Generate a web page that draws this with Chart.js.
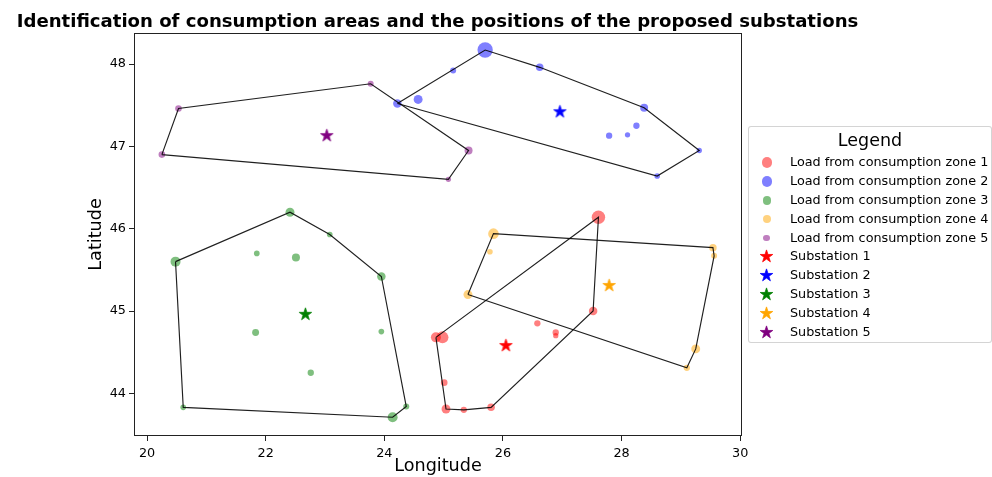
<!DOCTYPE html>
<html>
<head>
<meta charset="utf-8">
<script src="https://cdn.jsdelivr.net/npm/chart.js@4/dist/chart.umd.min.js"></script>
<style>
html,body{margin:0;padding:0;background:#fff;}
#wrap{position:relative;width:992px;height:477px;overflow:hidden;font-family:"DejaVu Sans",sans-serif;color:#000;}
#c{position:absolute;left:0;top:0;}
#legend{position:absolute;left:748px;top:126px;width:244px;height:217px;box-sizing:border-box;border:1px solid rgba(204,204,204,0.85);border-radius:3px;background:rgba(255,255,255,0.8);}
#legend .lt{position:absolute;left:0;right:0;text-align:center;font-size:17.5px;line-height:17.5px;white-space:nowrap;}
#legend .row{position:absolute;left:0;height:18.84px;line-height:18.84px;font-size:12.8px;white-space:nowrap;}
#legend .mk{position:absolute;}
#legend .tx{position:absolute;left:41px;top:0;}
</style>
</head>
<body>
<div id="wrap">
<canvas id="c" width="992" height="477"></canvas>
<div id="legend"></div>
</div>
<script>
// ---------- data ----------
const titleText = "Identification of consumption areas and the positions of the proposed substations";
const xLabel = "Longitude";
const yLabel = "Latitude";
const xTicks = [20, 22, 24, 26, 28, 30];
const yTicks = [44, 45, 46, 47, 48];

const zone1Lon = [27.61, 27.52, 25.80, 25.34, 25.04, 24.87, 24.98, 25.01, 26.58, 26.89, 26.89];
const zone1Lat = [46.14, 45.00, 43.83, 43.80, 43.81, 44.68, 44.68, 44.13, 44.85, 44.74, 44.70];
const zone1Load = [45, 18, 14, 10, 20, 25, 36, 11, 10, 10, 7];

const zone2Lon = [24.22, 24.57, 25.16, 25.70, 26.62, 28.38, 29.31, 28.60, 28.25, 28.10, 27.79];
const zone2Lat = [47.52, 47.57, 47.92, 48.17, 47.96, 47.47, 46.95, 46.64, 47.25, 47.14, 47.13];
const zone2Load = [18, 20, 9, 59, 14, 16, 7, 8, 10, 7, 10];

const zone3Lon = [22.41, 23.08, 23.95, 24.37, 24.14, 20.61, 20.48, 21.85, 22.51, 21.83, 23.95, 22.76];
const zone3Lat = [46.20, 45.93, 45.42, 43.84, 43.71, 43.83, 45.60, 45.70, 45.65, 44.74, 44.75, 44.25];
const zone3Load = [20, 8, 18, 9, 25, 8, 25, 8, 16, 12, 8, 10];

const zone4Lon = [25.84, 25.78, 25.41, 29.54, 29.56, 29.25, 29.10];
const zone4Lat = [45.94, 45.72, 45.20, 45.77, 45.67, 44.54, 44.31];
const zone4Load = [28, 8, 20, 14, 9, 20, 10];

const zone5Lon = [20.53, 20.25, 23.77, 25.08, 25.42];
const zone5Lat = [47.46, 46.90, 47.76, 46.60, 46.95];
const zone5Load = [11, 11, 9, 7, 16];

const substationLon = [26.05, 26.96, 22.67, 27.79, 23.03];
const substationLat = [44.58, 47.42, 44.96, 45.31, 47.13];

const zoneLabels = ["Load from consumption zone 1", "Load from consumption zone 2", "Load from consumption zone 3", "Load from consumption zone 4", "Load from consumption zone 5"];
const substationLabels = ["Substation 1", "Substation 2", "Substation 3", "Substation 4", "Substation 5"];
const zoneColors = ["rgba(255,0,0,0.5)", "rgba(0,0,255,0.5)", "rgba(0,128,0,0.5)", "rgba(255,165,0,0.5)", "rgba(128,0,128,0.5)"];
const starColors = ["#ff0000", "#0000ff", "#008000", "#ffa500", "#800080"];
const legendCircleR = [5.2, 5.2, 4.2, 4.2, 3.3];

// ---------- helpers ----------
const zones = [
  {lon: zone1Lon, lat: zone1Lat, load: zone1Load},
  {lon: zone2Lon, lat: zone2Lat, load: zone2Load},
  {lon: zone3Lon, lat: zone3Lat, load: zone3Load},
  {lon: zone4Lon, lat: zone4Lat, load: zone4Load},
  {lon: zone5Lon, lat: zone5Lat, load: zone5Load}
];

function convexHull(points) {
  const p = points.slice().sort((a, b) => a.x - b.x || a.y - b.y);
  const cross = (o, a, b) => (a.x - o.x) * (b.y - o.y) - (a.y - o.y) * (b.x - o.x);
  const lower = [];
  for (const q of p) { while (lower.length >= 2 && cross(lower[lower.length - 2], lower[lower.length - 1], q) <= 0) lower.pop(); lower.push(q); }
  const upper = [];
  for (let i = p.length - 1; i >= 0; i--) { const q = p[i]; while (upper.length >= 2 && cross(upper[upper.length - 2], upper[upper.length - 1], q) <= 0) upper.pop(); upper.push(q); }
  upper.pop(); lower.pop();
  return lower.concat(upper);
}

function starCanvas(color, R) {
  const size = Math.ceil(R * 2 + 3);
  const c = document.createElement('canvas');
  c.width = size; c.height = size;
  const g = c.getContext('2d');
  g.translate(size / 2, size / 2);
  g.beginPath();
  for (let k = 0; k < 10; k++) {
    const r = (k % 2) ? R * 0.382 : R;
    const a = -Math.PI / 2 + k * Math.PI / 5;
    g.lineTo(r * Math.cos(a), r * Math.sin(a));
  }
  g.closePath();
  g.fillStyle = color; g.fill();
  g.strokeStyle = color; g.lineWidth = 0.8; g.stroke();
  return c;
}

const STAR_R = 6.6;
const FONT = '"DejaVu Sans", sans-serif';

const datasets = [];
zones.forEach((z) => {
  const pts = z.lon.map((x, j) => ({x: x, y: z.lat[j]}));
  const hull = convexHull(pts);
  hull.push(hull[0]);
  datasets.push({type: 'line', data: hull, borderColor: 'rgba(0,0,0,0.88)', borderWidth: 1.15, pointRadius: 0, fill: false, tension: 0, order: 0});
});
zones.forEach((z, i) => {
  datasets.push({type: 'scatter', label: zoneLabels[i], data: z.lon.map((x, j) => ({x: x, y: z.lat[j]})),
    backgroundColor: zoneColors[i], borderWidth: 0, pointRadius: z.load.map(l => Math.sqrt(l)), order: 2});
});
substationLon.forEach((x, i) => {
  datasets.push({type: 'scatter', label: substationLabels[i], data: [{x: x, y: substationLat[i]}],
    pointStyle: starCanvas(starColors[i], STAR_R), pointRadius: STAR_R, order: 1});
});

const framePlugin = {
  id: 'frame',
  afterDraw(chart) {
    const {ctx, chartArea: a} = chart;
    ctx.save();
    ctx.strokeStyle = '#222';
    ctx.lineWidth = 1;
    ctx.strokeRect(Math.round(a.left) + 0.5, Math.round(a.top) + 0.5, Math.round(a.right - a.left) - 1, Math.round(a.bottom - a.top) - 1);
    // title
    ctx.fillStyle = '#000';
    ctx.font = 'bold 18.1px ' + FONT;
    ctx.textAlign = 'center';
    ctx.textBaseline = 'alphabetic';
    ctx.fillText(titleText, (a.left + a.right) / 2 - 0.5, 26.7);
    ctx.restore();
  }
};

const tickFont = {family: FONT, size: 12.8};
const labelFont = {family: FONT, size: 17.6};

new Chart(document.getElementById('c'), {
  type: 'scatter',
  data: {datasets: datasets},
  plugins: [framePlugin],
  options: {
    responsive: false,
    animation: false,
    events: [],
    layout: {padding: {left: 0, top: 33, right: 250, bottom: 0}},
    plugins: {legend: {display: false}, tooltip: {enabled: false}, title: {display: false}},
    scales: {
      x: {
        type: 'linear', min: 19.78, max: 30.03,
        afterBuildTicks: (s) => { s.ticks = xTicks.map(v => ({value: v})); },
        afterFit: (s) => { s.height = 41; },
        ticks: {font: tickFont, color: '#000', padding: 5, callback: (v) => String(v)},
        grid: {drawOnChartArea: false, drawTicks: true, tickLength: 5, color: '#222'},
        border: {display: false},
        title: {display: true, text: xLabel, font: labelFont, color: '#000', padding: {top: 0, bottom: 0}}
      },
      y: {
        type: 'linear', min: 43.482, max: 48.377,
        afterBuildTicks: (s) => { s.ticks = yTicks.map(v => ({value: v})); },
        afterFit: (s) => { s.width = 134; },
        ticks: {font: tickFont, color: '#000', padding: 3, callback: (v) => String(v)},
        grid: {drawOnChartArea: false, drawTicks: true, tickLength: 5, color: '#222'},
        border: {display: false},
        title: {display: true, text: yLabel, font: labelFont, color: '#000', padding: {top: 86, bottom: 0}}
      }
    }
  }
});

// ---------- HTML legend ----------
const leg = document.getElementById('legend');
const LEFT = 748, TOP = 126;
const t = document.createElement('div');
t.className = 'lt'; t.textContent = 'Legend';
t.style.top = (145.7 - TOP - 14.8) + 'px';
leg.appendChild(t);
const rowH = 18.84;
const allLabels = zoneLabels.concat(substationLabels);
allLabels.forEach((lab, i) => {
  const cy = 162.7 + i * rowH;
  const row = document.createElement('div');
  row.className = 'row';
  row.style.top = (cy - rowH / 2 - TOP - 1) + 'px';
  row.style.width = '240px';
  const tx = document.createElement('span');
  tx.className = 'tx'; tx.textContent = lab;
  tx.style.left = (790 - LEFT - 1) + 'px';
  row.appendChild(tx);
  const mcx = 766.7 - LEFT - 1;
  if (i < 5) {
    const r = legendCircleR[i];
    const m = document.createElement('span');
    m.className = 'mk';
    m.style.left = (mcx - r) + 'px'; m.style.top = (rowH / 2 - r) + 'px';
    m.style.width = (2 * r) + 'px'; m.style.height = (2 * r) + 'px';
    m.style.borderRadius = '50%'; m.style.background = zoneColors[i];
    row.appendChild(m);
  } else {
    const sc = starCanvas(starColors[i - 5], STAR_R);
    sc.className = 'mk';
    sc.style.left = (mcx - sc.width / 2) + 'px'; sc.style.top = (rowH / 2 - sc.height / 2) + 'px';
    row.appendChild(sc);
  }
  leg.appendChild(row);
});
</script>
</body>
</html>
